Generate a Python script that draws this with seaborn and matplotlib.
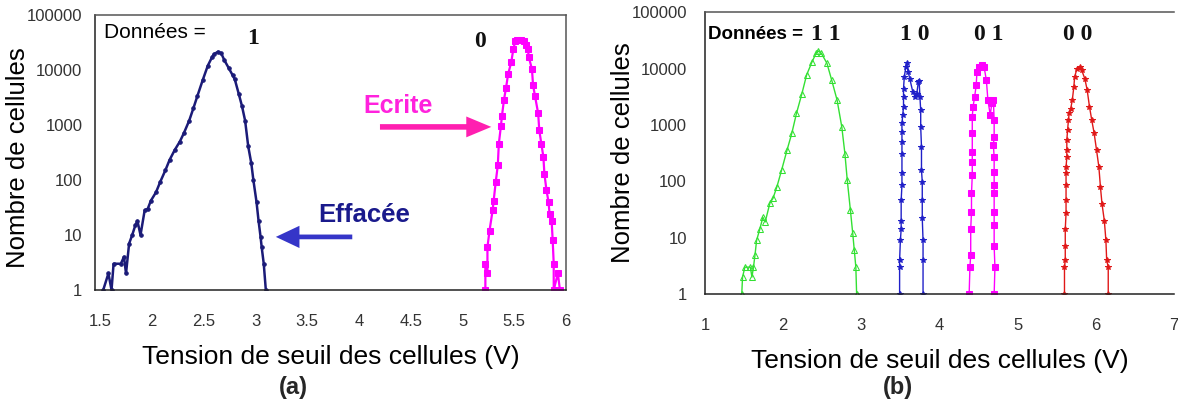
import matplotlib
matplotlib.use("Agg")
import matplotlib.pyplot as plt
import seaborn as sns
import numpy as np
import pandas as pd

# ---------------- data (a) ----------------
a_erased_v = [1.53, 1.58, 1.61, 1.63, 1.70, 1.73, 1.75, 1.78, 1.81, 1.84, 1.86, 1.89, 1.93, 1.96,
              1.99, 2.04, 2.08, 2.13, 2.17, 2.22, 2.27, 2.31, 2.36, 2.40, 2.44, 2.49, 2.54, 2.58,
              2.60, 2.64, 2.67, 2.70, 2.74, 2.78, 2.80, 2.84, 2.87, 2.90, 2.93, 2.96, 2.98, 3.01,
              3.03, 3.05, 3.06, 3.08, 3.10]
a_erased_n = [1, 2, 1, 3, 3, 4, 2, 7, 10, 15, 18, 10, 28, 30,
              42, 60, 92, 150, 230, 350, 500, 720, 1200, 2000, 3400, 6500, 12000, 17000,
              19500, 21500, 20000, 15000, 11000, 8000, 6800, 3600, 2200, 1200, 410, 200, 99, 40,
              18, 9, 6, 3, 1]

a_written_v = [5.22, 5.22, 5.24, 5.24, 5.26, 5.29, 5.30, 5.32, 5.34, 5.35, 5.37, 5.38, 5.40, 5.42,
               5.44, 5.47, 5.49, 5.51, 5.53, 5.56, 5.59, 5.61, 5.63, 5.64, 5.67, 5.68, 5.70, 5.73,
               5.74, 5.76, 5.78, 5.79, 5.81, 5.83, 5.84, 5.86, 5.87, 5.88, 5.88, 5.92, 5.94]
a_written_n = [1, 3, 2, 6, 12, 28, 42, 92, 185, 460, 950, 1450, 2900, 4800,
               8500, 13800, 24000, 34000, 35000, 35000, 33000, 28000, 24000, 17000, 10300, 5400, 3300, 1620,
               820, 460, 265, 130, 65, 40, 24, 18, 8, 3, 1, 2, 1]

# ---------------- data (b) ----------------
b11_v = [1.47, 1.48, 1.51, 1.58, 1.60, 1.62, 1.64, 1.66, 1.70, 1.74, 1.77, 1.83, 1.87, 1.92,
         1.98, 2.05, 2.11, 2.17, 2.24, 2.30, 2.37, 2.42, 2.45, 2.49, 2.56, 2.62, 2.69, 2.75,
         2.79, 2.82, 2.86, 2.89, 2.91, 2.93, 2.94]
b11_n = [1, 2, 3, 3, 2, 3, 5, 9, 14, 23, 19, 41, 50, 80,
         158, 360, 705, 1600, 3600, 7700, 13200, 18500, 20500, 18500, 12400, 6300, 2750, 925,
         310, 105, 31, 12, 6, 3, 1]

b10_v = [3.49, 3.49, 3.49, 3.50, 3.51, 3.51, 3.51, 3.52, 3.52, 3.52, 3.52, 3.52, 3.52, 3.53,
         3.54, 3.54, 3.54, 3.55, 3.57, 3.58, 3.60, 3.62, 3.66, 3.69, 3.71, 3.73, 3.74, 3.75,
         3.76, 3.76, 3.77, 3.77, 3.78, 3.78, 3.78, 3.79, 3.79, 3.79]
b10_n = [1, 3, 4, 9, 14, 20, 46, 86, 139, 310, 500, 755, 1060, 1500,
         2100, 3150, 4400, 7100, 10800, 12400, 8700, 6600, 3800, 3150, 3600, 5800, 6100, 3150,
         1830, 925, 410, 158, 98, 46, 22, 9, 4, 1]

b01_v = [4.38, 4.39, 4.40, 4.40, 4.41, 4.41, 4.42, 4.42, 4.42, 4.42, 4.42, 4.43, 4.45, 4.47,
         4.48, 4.50, 4.54, 4.57, 4.60, 4.62, 4.65, 4.67, 4.69, 4.70, 4.70, 4.69, 4.70, 4.70,
         4.70, 4.70, 4.70, 4.70, 4.70, 4.71, 4.70]
b01_n = [1, 3, 5, 14, 29, 61, 128, 222, 335, 705, 1400, 2100, 3150, 5000,
         8700, 10800, 11500, 10800, 6300, 2750, 1500, 2400, 2750, 1200, 615, 440, 270, 147,
         86, 61, 29, 17, 7, 3, 1]

b00_v = [5.60, 5.60, 5.61, 5.61, 5.61, 5.62, 5.62, 5.62, 5.62, 5.62, 5.63, 5.63, 5.63, 5.64,
         5.65, 5.66, 5.68, 5.70, 5.72, 5.73, 5.76, 5.80, 5.82, 5.86, 5.89, 5.92, 5.95, 5.98,
         6.01, 6.04, 6.06, 6.08, 6.11, 6.13, 6.14, 6.16, 6.16]
b00_n = [1, 3, 4, 7, 14, 27, 46, 86, 139, 180, 265, 360, 540, 810,
         1200, 1600, 1950, 2750, 4750, 7100, 10000, 10800, 9400, 6600, 4200, 2100, 1200, 705,
         360, 180, 80, 40, 20, 9, 4, 3, 1]

a_xticks = [1.5, 2, 2.5, 3, 3.5, 4, 4.5, 5, 5.5, 6]
a_xticklabels = ["1.5", "2", "2.5", "3", "3.5", "4", "4.5", "5", "5.5", "6"]
b_xticks = [1, 2, 3, 4, 5, 6, 7]
b_xticklabels = ["1", "2", "3", "4", "5", "6", "7"]
yticks = [1, 10, 100, 1000, 10000, 100000]
yticklabels = ["1", "10", "100", "1000", "10000", "100000"]
b_state_labels = ["1 1", "1 0", "0 1", "0 0"]
b_state_x = [0.258, 0.448, 0.606, 0.795]

# ---------------- style ----------------
sns.set_theme(style="white")
plt.rcParams['font.family'] = ['Liberation Sans', 'DejaVu Sans']
SERIF = ['Liberation Serif', 'DejaVu Serif']

fig = plt.figure(figsize=(11.78, 4.05), dpi=100)
ax1 = fig.add_axes([0.0806, 0.284, 0.400, 0.679])
ax2 = fig.add_axes([0.5985, 0.274, 0.398, 0.696])

# (a)
sns.lineplot(x=a_erased_v, y=a_erased_n, ax=ax1, sort=False, estimator=None,
             color="#1b1b78", lw=1.8, marker='.', ms=5, mec="#1b1b78")
sns.lineplot(x=a_written_v, y=a_written_n, ax=ax1, sort=False, estimator=None,
             color="#ff00ff", lw=1.6, marker='s', ms=4, mec="#ff00ff")

# (b)
sns.lineplot(x=b11_v, y=b11_n, ax=ax2, sort=False, estimator=None,
             color="#33e033", lw=1.0, marker='^', ms=4, mec="#33e033", mfc="none")
sns.lineplot(x=b10_v, y=b10_n, ax=ax2, sort=False, estimator=None,
             color="#2020c8", lw=1.0, marker='*', ms=4, mec="#2020c8")
sns.lineplot(x=b01_v, y=b01_n, ax=ax2, sort=False, estimator=None,
             color="#ff00ff", lw=1.0, marker='s', ms=4, mec="#ff00ff")
sns.lineplot(x=b00_v, y=b00_n, ax=ax2, sort=False, estimator=None,
             color="#e01818", lw=1.0, marker='*', ms=4, mec="#e01818")

for ax, xl, xt, xtl in [(ax1, (1.45, 6.0), a_xticks, a_xticklabels),
                        (ax2, (1.0, 7.0), b_xticks, b_xticklabels)]:
    ax.set_yscale('log')
    ax.set_ylim(1, 100000)
    ax.set_xlim(*xl)
    ax.set_xticks(xt)
    ax.set_xticklabels(xtl)
    ax.set_yticks(yticks)
    ax.set_yticklabels(yticklabels)
    ax.minorticks_off()
    ax.tick_params(axis='both', which='major', direction='inout', length=10, width=1.1,
                   color='#222222', labelsize=12, labelcolor='#333333')
    ax.tick_params(axis='x', pad=12)
    ax.tick_params(axis='y', pad=4)
    for s in ax.spines.values():
        s.set_color('#555555')
        s.set_linewidth(1.1)
    ax.spines['left'].set_color('#222222')
    ax.spines['bottom'].set_color('#222222')
    ax.set_ylabel("Nombre de cellules", fontsize=18.5, color='black')
    ax.set_xlabel("Tension de seuil des cellules (V)", fontsize=19, color='black', labelpad=12)
    ax.grid(False)

ax1.yaxis.set_label_coords(-0.137, 0.48)
ax2.yaxis.set_label_coords(-0.150, 0.5)
ax2.spines['right'].set_visible(False)
ax2.tick_params(axis='y', pad=8)

# annotations (a)
ax1.text(0.019, 0.935, "Données =", transform=ax1.transAxes, fontsize=15,
         ha='left', va='center', color='black')
ax1.text(0.335, 0.913, "1", transform=ax1.transAxes, fontsize=17, fontweight='bold',
         family=SERIF, ha='center', va='center', color='#111111')
ax1.text(0.817, 0.905, "0", transform=ax1.transAxes, fontsize=17, fontweight='bold',
         family=SERIF, ha='center', va='center', color='#111111')
ax1.text(0.643, 0.669, "Ecrite", transform=ax1.transAxes, fontsize=18, fontweight='bold',
         ha='center', va='center', color='#ff22dd')
ax1.text(0.571, 0.273, "Effacée", transform=ax1.transAxes, fontsize=18.5, fontweight='bold',
         ha='center', va='center', color='#1a1a8c')
ax1.annotate("", xy=(0.847, 0.593), xytext=(0.599, 0.593), xycoords='axes fraction',
             arrowprops=dict(arrowstyle='simple,head_length=0.9,head_width=0.75,tail_width=0.2',
                             mutation_scale=20, color='#ff1fb0', lw=0))
ax1.annotate("", xy=(0.378, 0.193), xytext=(0.552, 0.193), xycoords='axes fraction',
             arrowprops=dict(arrowstyle='simple,head_length=0.85,head_width=0.8,tail_width=0.17',
                             mutation_scale=20, color='#3535c8', lw=0))

# annotations (b)
ax2.text(0.006, 0.922, "Données =", transform=ax2.transAxes, fontsize=13.5, fontweight='bold',
         ha='left', va='center', color='black')
for lab, xx in zip(b_state_labels, b_state_x):
    ax2.text(xx, 0.922, lab, transform=ax2.transAxes, fontsize=17, fontweight='bold',
             family=SERIF, ha='center', va='center', color='#111111')

fig.text(0.249, 0.042, "(a)", fontsize=17, fontweight='bold', ha='center', va='center')
fig.text(0.762, 0.042, "(b)", fontsize=17, fontweight='bold', ha='center', va='center')

fig.savefig("out.png", dpi=100, facecolor='white')
